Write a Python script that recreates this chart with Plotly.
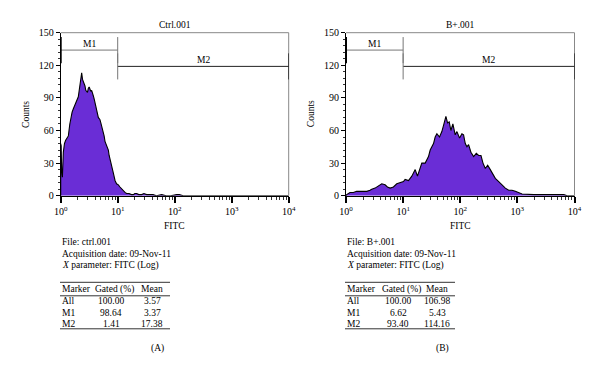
import math
import plotly.graph_objects as go

# ---------------- data ----------------
# Panel A (Ctrl.001): log10(FITC) positions and counts
a_log = [0.0, 0.0, 0.008, 0.017, 0.03, 0.046, 0.066, 0.087, 0.11, 0.134, 0.16, 0.181, 0.2, 0.222,
         0.245, 0.268, 0.29, 0.309, 0.325, 0.339, 0.355, 0.368, 0.383, 0.397, 0.412, 0.426, 0.44,
         0.456, 0.47, 0.485, 0.5, 0.514, 0.528, 0.543, 0.558, 0.572, 0.587, 0.602, 0.617, 0.631,
         0.645, 0.66, 0.675, 0.689, 0.704, 0.719, 0.733, 0.748, 0.762, 0.777, 0.792, 0.807, 0.822,
         0.836, 0.85, 0.865, 0.88, 0.894, 0.91, 0.923, 0.94, 0.953, 0.98, 1.011, 1.04, 1.07, 1.1,
         1.128, 1.157, 1.2, 1.24, 1.274, 1.3, 1.333, 1.37, 1.42, 1.46, 1.509, 1.56, 1.62, 1.68,
         1.772, 1.85, 1.93, 2.035, 2.08, 2.15, 4.0]
a_counts = [0, 48, 46, 22, 17, 40, 48, 51, 53, 55, 66, 74, 77, 80,
            83, 85, 88, 91, 97, 102, 108, 113, 107, 105, 103, 101, 97,
            96, 95, 99, 100, 98, 96, 97, 93, 92, 89, 85, 80, 77,
            75, 72, 71, 70, 67, 64, 61, 59, 55, 50, 48, 46, 44,
            42, 37, 33, 30, 27, 24, 21, 17, 14, 11, 10, 8, 6, 4,
            3, 2, 2, 1, 1, 2, 2, 1, 1, 2, 1, 1, 1, 0,
            1, 0, 0, 1, 1, 0, 0]

# Panel B (B+.001)
b_log = [0.0, 0.012, 0.07, 0.129, 0.187, 0.275, 0.363, 0.421, 0.45, 0.509, 0.567, 0.626, 0.684,
         0.725, 0.772, 0.83, 0.889, 0.947, 1.006, 1.035, 1.094, 1.152, 1.211, 1.251, 1.298, 1.327,
         1.386, 1.444, 1.474, 1.532, 1.561, 1.591, 1.637, 1.678, 1.719, 1.749, 1.778, 1.807, 1.836,
         1.871, 1.912, 1.942, 1.988, 2.029, 2.058, 2.088, 2.117, 2.146, 2.187, 2.234, 2.281, 2.322,
         2.363, 2.398, 2.439, 2.48, 2.526, 2.556, 2.614, 2.673, 2.731, 2.789, 2.848, 2.906, 2.965,
         3.023, 3.082, 3.287, 3.404, 3.52, 3.813, 3.871, 4.0]
b_counts = [0, 1, 3, 3, 4, 4, 4, 5, 6, 7, 9, 11, 10,
            8, 7, 8, 11, 12, 13, 15, 14, 18, 24, 18, 25, 30,
            30, 36, 42, 48, 54, 57, 54, 59, 67, 73, 67, 68, 60,
            66, 56, 59, 53, 57, 56, 48, 45, 47, 40, 36, 39, 37,
            37, 30, 25, 28, 24, 21, 16, 13, 10, 7, 5, 5, 4,
            3, 1.5, 1, 1, 0.5, 1, 0, 0]

titles = ["Ctrl.001", "B+.001"]
file_names = ["ctrl.001", "B+.001"]
acq_date = "09-Nov-11"
panel_labels = ["(A)", "(B)"]
markers = ["All", "M1", "M2"]
gated = [["100.00", "98.64", "1.41"], ["100.00", "6.62", "93.40"]]
means = [["3.57", "3.37", "17.38"], ["106.98", "5.43", "114.16"]]

# gates: name, lower, upper, level (counts)
gate_names = ["M1", "M2"]
gate_lo = [1, 10]
gate_hi = [10, 10000]
gate_level = [134, 119]

decades = [0, 1, 2, 3, 4]
y_ticks = [0, 30, 60, 90, 120, 150]

# ---------------- style ----------------
W, H = 600, 374
OX, OY = 8, 8          # page body margin offset
FONT = "Liberation Serif"
FS = 9.5
PURPLE = "#6a2dd6"


def px(x):
    return (x - OX) / W


def py(y):
    return 1 - (y - OY) / H


x_dom = [[px(60.7), px(288.7)], [px(346), px(574.5)]]
y_dom = [py(195.7), py(32.7)]
left_px = [60, 345]
gcol_px = [111, 398]
mcol_px = [152, 437]
tab_w = 110


def txt(x, y, text, xanchor="center", size=FS, **kw):
    d = dict(x=x, y=y, xref="paper", yref="paper", text=text, showarrow=False,
             xanchor=xanchor, yanchor="middle",
             font=dict(family=FONT, size=size, color="black"))
    d.update(kw)
    return d


fig = go.Figure()
series = [(a_log, a_counts), (b_log, b_counts)]
minor_vals = [k * 10 ** d for d in range(4) for k in range(2, 10)]

annotations = []
shapes = []
for i, (lg, cnt) in enumerate(series):
    xa = "x" if i == 0 else "x2"
    ya = "y" if i == 0 else "y2"
    fig.add_trace(go.Scatter(
        x=[10 ** v for v in lg], y=cnt, mode="lines", xaxis=xa, yaxis=ya,
        line=dict(color="black", width=1.1), fill="tozeroy", fillcolor=PURPLE,
        hoverinfo="skip", showlegend=False))

    sfx = "" if i == 0 else "2"
    fig.layout["xaxis" + sfx] = dict(
        type="log", range=[0, 4], domain=x_dom[i], anchor=ya, automargin=False,
        tickmode="array", tickvals=[10 ** d for d in decades],
        ticktext=["10<sup>%d</sup>" % d for d in decades],
        ticks="outside", ticklen=6, tickwidth=1.5, tickcolor="black",
        minor=dict(ticks="outside", ticklen=3, tickwidth=1, tickcolor="#333",
                   tickmode="array", tickvals=minor_vals),
        showline=True, linecolor="black", linewidth=1, showgrid=False, zeroline=False,
        tickfont=dict(family=FONT, size=10, color="black"), fixedrange=True)
    fig.layout["yaxis" + sfx] = dict(
        range=[0, 150], domain=y_dom, anchor=xa, automargin=False,
        tickmode="array", tickvals=y_ticks, ticks="outside", ticklen=4, tickcolor="black",
        minor=dict(ticks="outside", ticklen=2, tickcolor="#333", dtick=6, tick0=0),
        showline=True, linecolor="black", linewidth=1, showgrid=False, zeroline=False,
        tickfont=dict(family=FONT, size=10, color="black"), fixedrange=True)

    # gray frame top and right
    shapes.append(dict(type="line", xref=xa + " domain", yref=ya + " domain", x0=0, x1=1, y0=1, y1=1,
                       line=dict(color="#888", width=1)))
    shapes.append(dict(type="line", xref=xa + " domain", yref=ya + " domain", x0=1, x1=1, y0=0, y1=1,
                       line=dict(color="#888", width=1)))

    # gates
    for g in range(len(gate_names)):
        lo, hi, lv = gate_lo[g], gate_hi[g], gate_level[g]
        lc = "#777" if g == 0 else "#222"
        shapes.append(dict(type="line", xref=xa, yref=ya, x0=lo, x1=hi, y0=lv, y1=lv,
                           line=dict(color=lc, width=1)))
        shapes.append(dict(type="line", xref=xa, yref=ya, x0=lo, x1=lo, y0=lv - 12, y1=lv + 12,
                           line=dict(color="black" if g == 0 else "#777", width=2 if g == 0 else 1)))
        shapes.append(dict(type="line", xref=xa, yref=ya, x0=hi, x1=hi, y0=lv - 12, y1=lv + 12,
                           line=dict(color="#777" if g == 0 else "black", width=1)))
        annotations.append(dict(x=0.5 * (math.log10(lo) + math.log10(hi)),
                                y=lv + 6, xref=xa, yref=ya, text=gate_names[g], showarrow=False,
                                xanchor="center", yanchor="middle",
                                font=dict(family=FONT, size=9.5, color="black")))

    cx = (x_dom[i][0] + x_dom[i][1]) / 2
    annotations.append(txt(cx, py(25), titles[i]))
    annotations.append(txt(cx, py(226), "FITC"))
    annotations.append(txt(x_dom[i][0] - 35 / W, (y_dom[0] + y_dom[1]) / 2, "Counts", textangle=-90))

    lx = left_px[i]
    info = ["File: " + file_names[i], "Acquisition date: " + acq_date,
            "<i>X</i> parameter: FITC (Log)"]
    for k, t in enumerate(info):
        annotations.append(txt(px(lx), py(241.5 + 12.2 * k), t, xanchor="left"))
    # table
    for yl in [282.3, 295.8, 328.8]:
        shapes.append(dict(type="line", xref="paper", yref="paper", x0=px(lx), x1=px(lx + tab_w),
                           y0=py(yl), y1=py(yl), line=dict(color="#333", width=1)))
    hdr_y = 289.0
    annotations.append(txt(px(lx), py(hdr_y), "Marker", xanchor="left"))
    annotations.append(txt(px(gcol_px[i] + 3), py(hdr_y), "Gated (%)"))
    annotations.append(txt(px(mcol_px[i]), py(hdr_y), "Mean"))
    for r in range(3):
        ry = 300.8 + 11.8 * r
        annotations.append(txt(px(lx), py(ry), markers[r], xanchor="left"))
        annotations.append(txt(px(gcol_px[i]), py(ry), gated[i][r]))
        annotations.append(txt(px(mcol_px[i]), py(ry), means[i][r]))
    annotations.append(txt(px(157 if i == 0 else 442), py(348.3), panel_labels[i]))

fig.update_layout(
    width=W, height=H, margin=dict(l=0, r=0, t=0, b=0),
    paper_bgcolor="white", plot_bgcolor="white",
    annotations=annotations, shapes=shapes, showlegend=False,
)

fig.write_html("out.html")
